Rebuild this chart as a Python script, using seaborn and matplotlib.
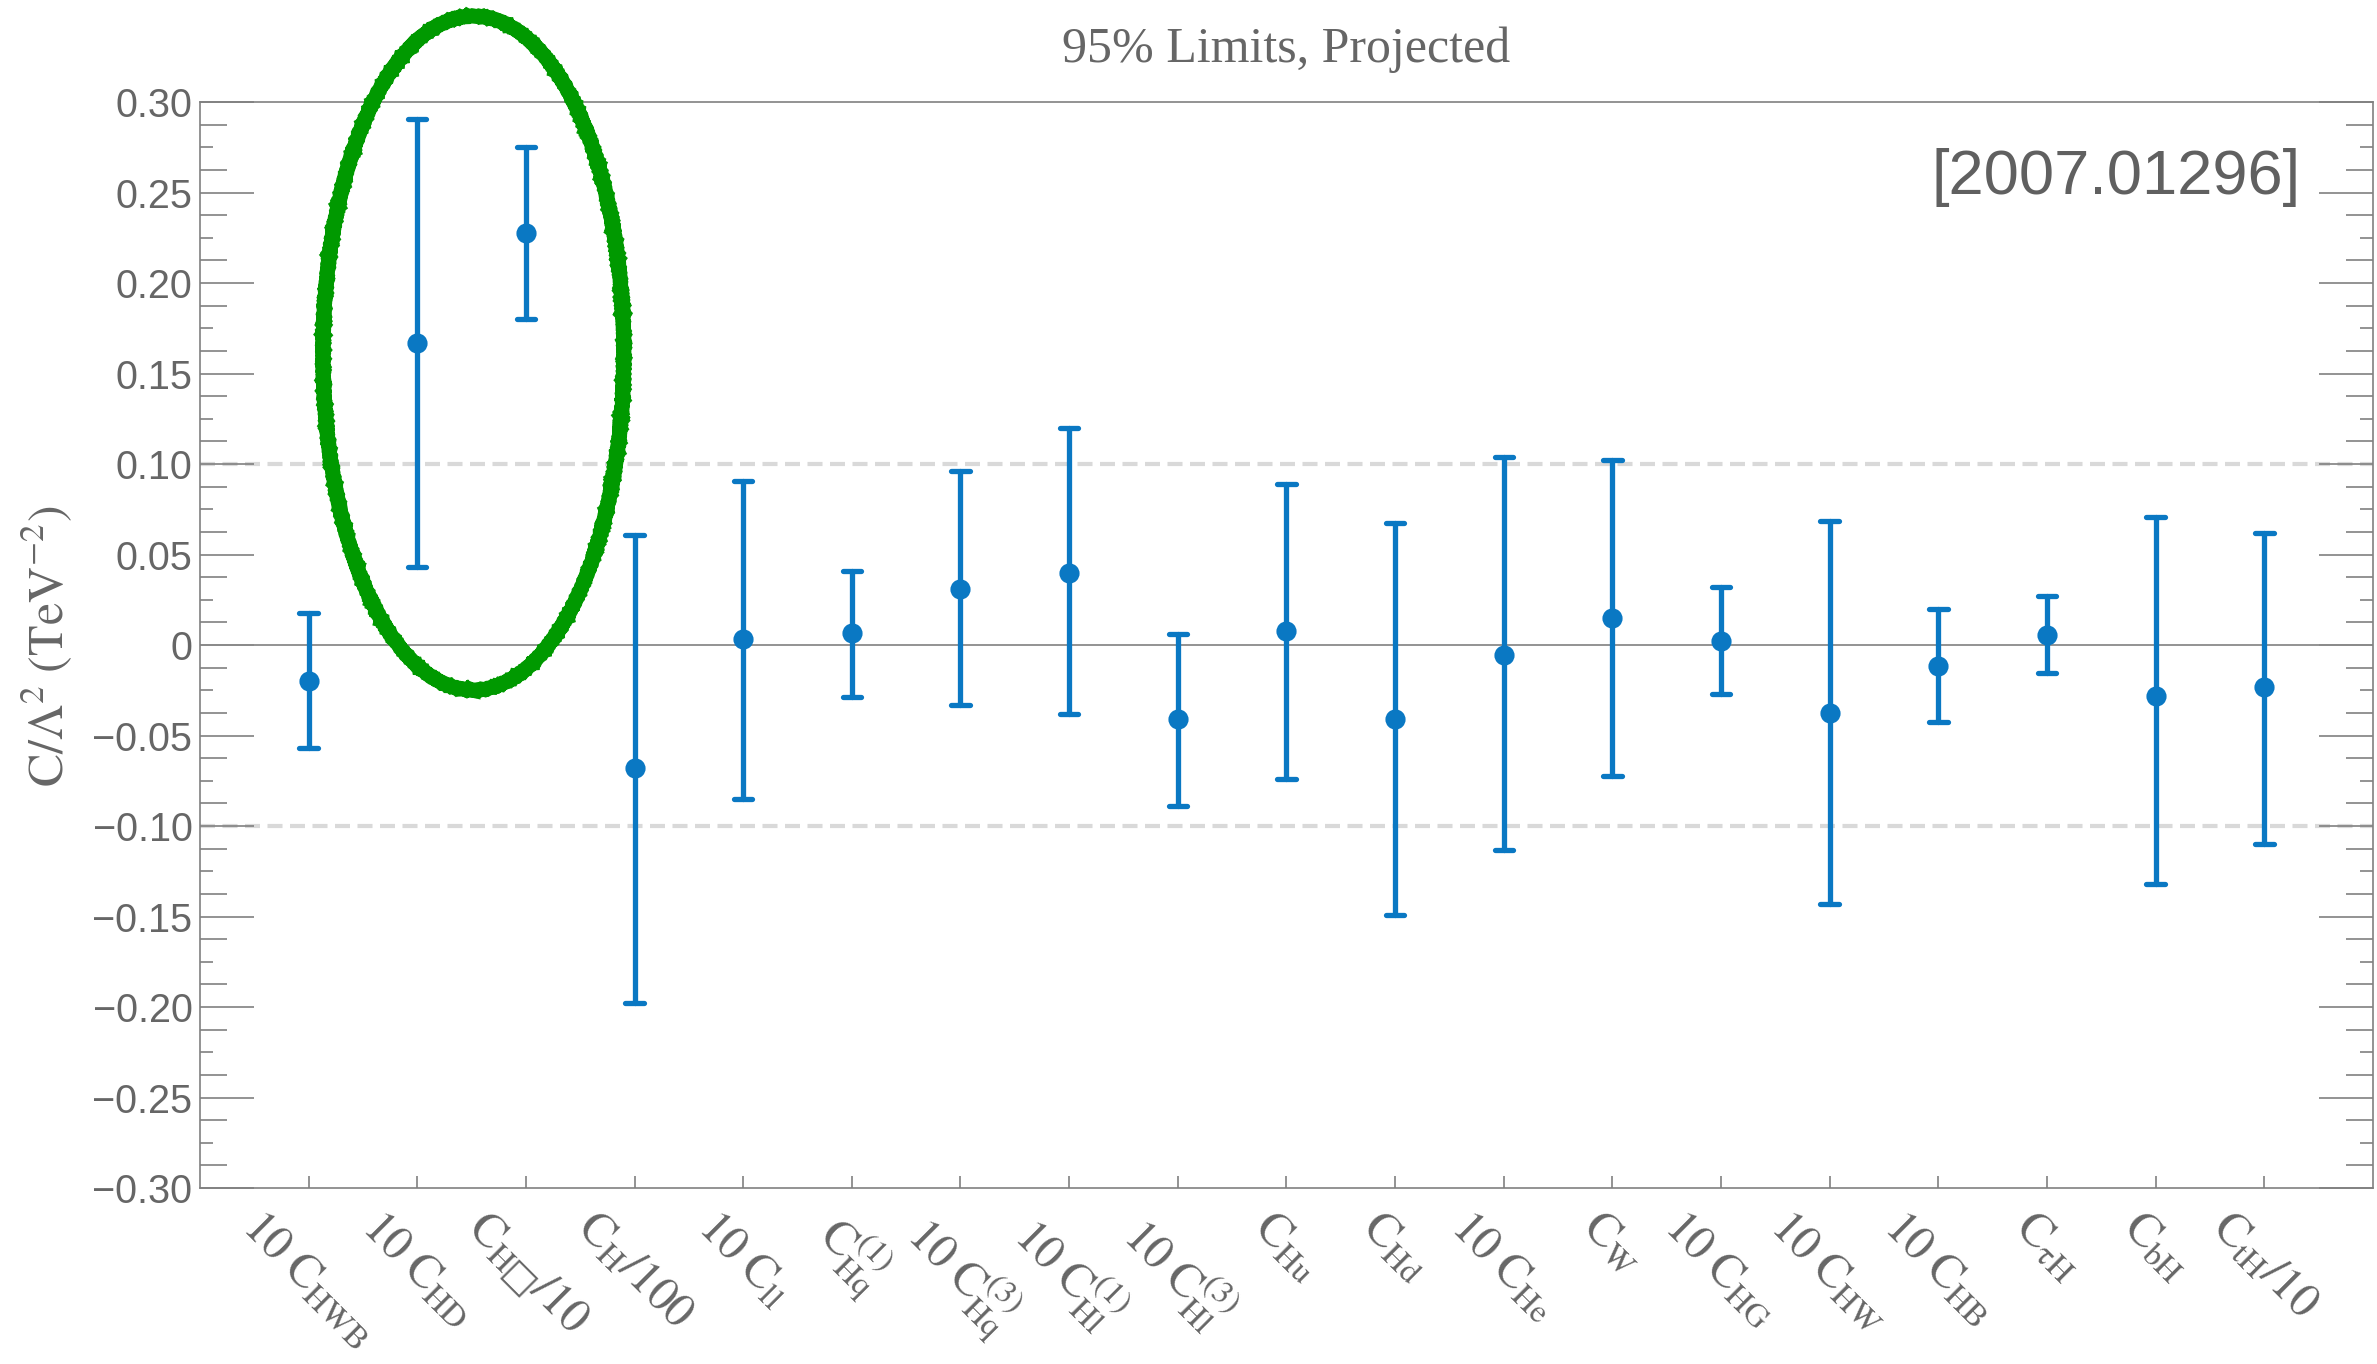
import numpy as np
import pandas as pd
import seaborn as sns
import matplotlib.pyplot as plt
from matplotlib.patches import Ellipse
from matplotlib.ticker import FixedLocator, FuncFormatter

# Wilson coefficients (rescaled as labelled), 95% projected limits
labels = [
    r'$\mathrm{10\ C_{HWB}}$', r'$\mathrm{10\ C_{HD}}$', '$\\mathrm{C_{H\u25a1}/10}$',
    r'$\mathrm{C_{H}/100}$', r'$\mathrm{10\ C_{ll}}$', r'$\mathrm{C_{Hq}^{(1)}}$',
    r'$\mathrm{10\ C_{Hq}^{(3)}}$', r'$\mathrm{10\ C_{Hl}^{(1)}}$', r'$\mathrm{10\ C_{Hl}^{(3)}}$',
    r'$\mathrm{C_{Hu}}$', r'$\mathrm{C_{Hd}}$', r'$\mathrm{10\ C_{He}}$',
    r'$\mathrm{C_{W}}$', r'$\mathrm{10\ C_{HG}}$', r'$\mathrm{10\ C_{HW}}$',
    r'$\mathrm{10\ C_{HB}}$', r'$\mathrm{C_{\tau H}}$', r'$\mathrm{C_{bH}}$',
    r'$\mathrm{C_{tH}/10}$',
]
center = [-0.020, 0.167, 0.2275, -0.068, 0.0035, 0.0067, 0.031, 0.040, -0.041, 0.008,
          -0.041, -0.0054, 0.0147, 0.0025, -0.0376, -0.0114, 0.0055, -0.028, -0.023]
lower = [-0.057, 0.043, 0.180, -0.198, -0.085, -0.0285, -0.033, -0.038, -0.089, -0.074,
         -0.149, -0.113, -0.0726, -0.0271, -0.143, -0.0425, -0.0153, -0.132, -0.110]
upper = [0.0176, 0.2904, 0.2749, 0.061, 0.0905, 0.041, 0.096, 0.120, 0.006, 0.089,
         0.0672, 0.1037, 0.1024, 0.0318, 0.0683, 0.0201, 0.0271, 0.071, 0.062]

sns.set_theme(style='ticks')
plt.rcParams['font.family'] = ['Liberation Serif', 'DejaVu Serif']
plt.rcParams['mathtext.fontset'] = 'stix'

gray = '#666666'
frame = '#808080'
blue = '#0a78c3'

# long form: lower/center/upper per coefficient -> median is the centre, min/max the bar
df = pd.DataFrame({
    'coef': np.repeat(labels, 3),
    'value': np.column_stack([lower, center, upper]).ravel(),
})

fig = plt.figure(figsize=(23.77, 13.64), dpi=100)
ax = fig.add_axes([0.0841, 0.1290, 0.9142, 0.7962])

ax.axhline(0.1, color='#d9d9d9', lw=3, dashes=(3.6, 1.8), zorder=0.5)
ax.axhline(-0.1, color='#d9d9d9', lw=3, dashes=(3.6, 1.8), zorder=0.5)
ax.axhline(0, color='#8a8a8a', lw=1.3, zorder=0.6)

sns.pointplot(data=df, x='coef', y='value', order=labels, estimator='median',
              errorbar=lambda v: (v.min(), v.max()), color=blue, linestyle='none',
              marker='o', markersize=12.5, capsize=0.17,
              err_kws={'linewidth': 3.8}, ax=ax)

ax.set_xlim(-1, 19)
ax.set_ylim(-0.30, 0.30)
ax.set_xlabel('')
ax.set_ylabel('')

# y ticks: long majors, medium and short minors on both sides
ax.set_yticks(np.arange(-6, 7) * 0.05)
ax.yaxis.set_major_formatter(FuncFormatter(
    lambda v, p: '0' if abs(v) < 1e-9 else f'{v:.2f}'.replace('-', '\u2212')))
ax.yaxis.set_minor_locator(FixedLocator([k * 0.0125 for k in range(-23, 24, 2)]))
ax.tick_params(axis='y', which='major', direction='in', length=38.9, width=1.2,
               color=frame, left=True, right=True, labelsize=28.5, labelcolor=gray, pad=5.4)
ax.tick_params(axis='y', which='minor', direction='in', length=19.4, width=1.2,
               color=frame, left=True, right=True)
plt.setp(ax.get_yticklabels(), fontfamily='Liberation Sans')

for side in ['left', 'right']:
    sec = ax.secondary_yaxis(side)
    sec.set_yticks([k * 0.025 for k in range(-11, 12, 2)])
    sec.set_yticklabels([])
    sec.tick_params(direction='in', length=9.4, width=1.2, color=frame)
    for s in sec.spines.values():
        s.set_visible(False)

ax.set_xticks(range(len(labels)))
ax.set_xticklabels(labels, rotation=-45, ha='center', va='top')
ax.tick_params(axis='x', direction='in', length=8.6, width=1.2, color=frame,
               bottom=True, top=False, pad=12, labelsize=34, labelcolor=gray)

for s in ax.spines.values():
    s.set_visible(True)
    s.set_color(frame)
    s.set_linewidth(1.2)

fig.text(1286.5 / 2377, 1 - 62 / 1364, '95% Limits, Projected', ha='center',
         va='baseline', fontsize=36, color=gray)
fig.text(47 / 2377, 1 - 646 / 1364, r'$\mathrm{C/\Lambda^2\ (TeV^{-2})}$', rotation=90,
         ha='center', va='center', fontsize=36, color=gray)
ax.text(0.9668, 0.9153, '[2007.01296]', transform=ax.transAxes, ha='right',
        va='baseline', fontsize=45.5, color='#606060', family='Liberation Sans')

# hand-drawn highlight around the Higgs-kinetic coefficients
ring = Ellipse((1.517, 0.1613), 2.77, 0.3724, fill=False, ec='#009900',
               lw=10.5, zorder=10, clip_on=False)
ring.set_sketch_params(scale=0.5, length=4, randomness=2)
ax.add_patch(ring)

fig.savefig('out.png', dpi=100)
